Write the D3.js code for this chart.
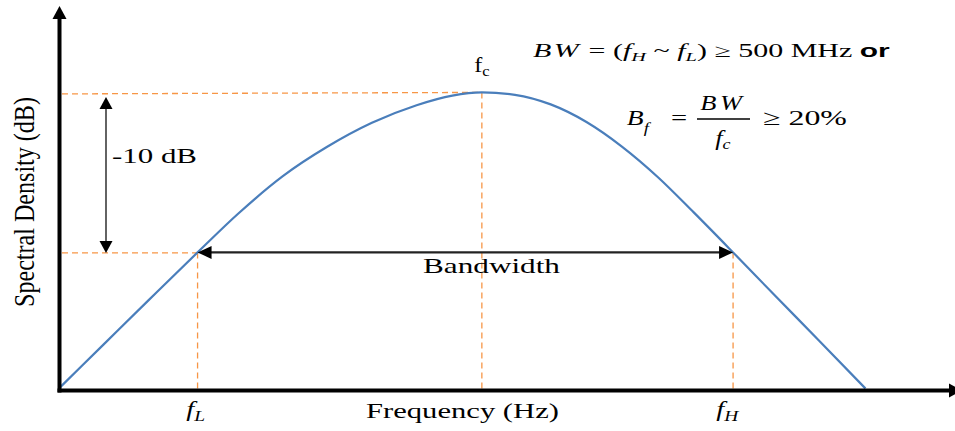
<!DOCTYPE html>
<html>
<head>
<meta charset="utf-8">
<script src="https://cdn.jsdelivr.net/npm/d3@7"></script>
<style>
  html, body { margin: 0; padding: 0; background: #fff; }
  svg { display: block; }
</style>
</head>
<body>
<svg id="chart" width="955" height="431"></svg>
<script>
// Spectral density curve: frequency in arbitrary units, level in dB
const frequency = [0, 5, 10, 15.5, 20, 25, 30, 35, 40, 44, 47.3,
                   51, 55, 59, 63, 67, 71, 75.4, 80, 85, 90.2];
const density   = [-18.5, -15.75, -13.0, -10.0, -7.6, -5.25, -3.4, -1.9, -0.8, -0.2, 0,
                   -0.15, -0.75, -1.85, -3.4, -5.3, -7.5, -10.0, -12.65, -15.5, -18.5];

// Band edges and centre frequency
const markerFreq = { fL: 15.5, fc: 47.3, fH: 75.4 };
const peakLevel = 0;     // dB at fc
const edgeLevel = -10;   // dB at fL / fH

const xDomain = [0, 100];
const yDomain = [-18.6, 5.4];

const SERIF = "'Liberation Serif', 'Times New Roman', serif";
const SANS = "'Liberation Sans', Arial, sans-serif";
const CURVE = "#4a7ebb";
const GUIDE = "#f79646";
const STRETCH = 1.3;   // horizontal stretch applied to short labels

const svg = d3.select("#chart");
const x = d3.scaleLinear().domain(xDomain).range([59, 953]);
const y = d3.scaleLinear().domain(yDomain).range([390, 6]);

const x0 = x(xDomain[0]), yBase = y(yDomain[0]);

// ---- helpers ----
function arrowHead(g, tipX, tipY, dx, dy, len, half, fill) {
  const bx = tipX - dx * len, by = tipY - dy * len;
  const px = -dy, py = dx;
  g.append("path")
    .attr("d", `M${tipX},${tipY}L${bx + px * half},${by + py * half}L${bx - px * half},${by - py * half}Z`)
    .attr("fill", fill);
}

function richText(parent, parts, size) {
  const t = parent.append("text")
    .attr("font-family", SERIF).attr("font-size", size).attr("fill", "#000");
  let shift = 0;
  parts.forEach(p => {
    const s = t.append("tspan").text(p.t);
    const want = p.sub ? size * (p.drop || 0.3) : 0;
    if (want !== shift) { s.attr("dy", want - shift); shift = want; }
    if (p.sub) s.attr("font-size", size * (p.rel || 0.68));
    if (p.i) s.attr("font-style", "italic");
    if (p.b) s.attr("font-weight", "bold");
    if (p.sans) s.attr("font-family", SANS);
    if (p.ls) s.attr("letter-spacing", p.ls);
  });
  return t;
}

// text with its left edge at `left`, stretched horizontally to `width`
function fitted(parts, left, baseline, size, width) {
  const g = svg.append("g");
  const t = richText(g, parts, size);
  const b = t.node().getBBox();
  const s = width / b.width;
  g.attr("transform", `translate(${left - b.x * s},${baseline}) scale(${s},1)`);
  return g;
}

// text centred on `cx`, with the fixed horizontal stretch
function centred(parts, cx, baseline, size, s = STRETCH) {
  const g = svg.append("g");
  const t = richText(g, parts, size);
  const b = t.node().getBBox();
  g.attr("transform", `translate(${cx - (b.x + b.width / 2) * s},${baseline}) scale(${s},1)`);
  return g;
}

// ---- guide lines (dashed) ----
const guides = svg.append("g")
  .attr("stroke", GUIDE).attr("stroke-width", 1.3)
  .attr("stroke-dasharray", "6,4").attr("fill", "none");

guides.append("line")
  .attr("x1", x0 + 3).attr("x2", x(markerFreq.fc))
  .attr("y1", y(peakLevel) + 1.5).attr("y2", y(peakLevel));
guides.append("line")
  .attr("x1", x0 + 3).attr("x2", x(markerFreq.fL))
  .attr("y1", y(edgeLevel) + 0.5).attr("y2", y(edgeLevel) + 0.5);
[["fL", edgeLevel], ["fc", peakLevel], ["fH", edgeLevel]].forEach(([k, lvl]) => {
  guides.append("line")
    .attr("x1", x(markerFreq[k])).attr("x2", x(markerFreq[k]))
    .attr("y1", y(lvl)).attr("y2", yBase);
});

// ---- spectral curve ----
const pts = frequency.map((f, i) => [f, density[i]]);
svg.append("path")
  .datum(pts)
  .attr("fill", "none")
  .attr("stroke", CURVE)
  .attr("stroke-width", 2.2)
  .attr("d", d3.line().x(d => x(d[0])).y(d => y(d[1])).curve(d3.curveMonotoneX));

// ---- axes ----
const axes = svg.append("g");
axes.append("line")
  .attr("x1", x0 + 0.5).attr("x2", x0 + 0.5)
  .attr("y1", yBase + 2.5).attr("y2", y(yDomain[1]) + 10)
  .attr("stroke", "#000").attr("stroke-width", 4);
arrowHead(axes, x0 + 0.5, y(yDomain[1]), 0, -1, 13, 7, "#000");

const xTip = x(xDomain[1]) + 9;
axes.append("line")
  .attr("x1", x0 - 1.5).attr("x2", xTip - 8)
  .attr("y1", yBase + 0.5).attr("y2", yBase + 0.5)
  .attr("stroke", "#000").attr("stroke-width", 4);
arrowHead(axes, xTip, yBase + 0.5, 1, 0, 13, 7, "#000");

// ---- -10 dB span arrow ----
const dbArrowX = x0 + 47;
const ann = svg.append("g");
ann.append("line")
  .attr("x1", dbArrowX).attr("x2", dbArrowX)
  .attr("y1", y(peakLevel) + 14).attr("y2", y(edgeLevel) - 10)
  .attr("stroke", "#222").attr("stroke-width", 1.4);
arrowHead(ann, dbArrowX, y(peakLevel) + 4.5, 0, -1, 12, 6.5, "#000");
arrowHead(ann, dbArrowX, y(edgeLevel) + 0.5, 0, 1, 12, 6.5, "#000");

// ---- bandwidth arrow ----
const bwY = y(edgeLevel);
ann.append("line")
  .attr("x1", x(markerFreq.fL) + 10).attr("x2", x(markerFreq.fH) - 10)
  .attr("y1", bwY).attr("y2", bwY)
  .attr("stroke", "#222").attr("stroke-width", 2.2);
arrowHead(ann, x(markerFreq.fL), bwY, -1, 0, 14, 6.5, "#000");
arrowHead(ann, x(markerFreq.fH), bwY, 1, 0, 14, 6.5, "#000");

// ---- labels ----
fitted([{ t: "-10 dB" }], dbArrowX + 6, 163, 22, 85);
fitted([{ t: "Bandwidth" }], 423, 273, 22, 137);
fitted([{ t: "Frequency (Hz)" }], 366, 418, 21, 193);
centred([{ t: "f", i: true }, { t: "L", i: true, sub: true, drop: 0.22 }], x(markerFreq.fL) - 2, 416, 22);
centred([{ t: "f", i: true }, { t: "H", i: true, sub: true, drop: 0.22 }], x(markerFreq.fH) - 5, 416, 22);
centred([{ t: "f" }, { t: "c", sub: true, drop: 0.2 }], x(markerFreq.fc), 72, 21, 1.15);

// y axis title
(function () {
  const g = svg.append("g");
  const t = g.append("text")
    .attr("font-family", SERIF).attr("font-size", 24).attr("fill", "#000")
    .attr("text-anchor", "middle").text("Spectral Density (dB)");
  const L = t.node().getComputedTextLength();
  g.attr("transform", `translate(33.5,202) scale(1.25,1) rotate(-90) scale(${210 / L},1)`);
})();

// bandwidth definitions
fitted([
  { t: "BW", i: true, ls: 1.5 }, { t: " = (" },
  { t: "f", i: true }, { t: "H", i: true, sub: true, drop: 0.2 },
  { t: " ~ " },
  { t: "f", i: true }, { t: "L", i: true, sub: true, drop: 0.2 },
  { t: ") ≥ 500 MHz " },
  { t: "or", b: true, sans: true }
], 533, 57, 18.5, 357);

centred([{ t: "B", i: true }, { t: "f", i: true, sub: true, drop: 0.38 }], 639, 125, 22, 1.25);
centred([{ t: "=" }], 679, 125, 22, 1.3);
centred([{ t: "BW", i: true, ls: 3 }], 723, 110, 22, 1.2);
svg.append("line")
  .attr("x1", 697).attr("x2", 750).attr("y1", 119).attr("y2", 119)
  .attr("stroke", "#000").attr("stroke-width", 1.3);
centred([{ t: "f", i: true }, { t: "c", i: true, sub: true, drop: 0.2 }], 723, 145, 22, 1.2);
fitted([{ t: "≥ 20%" }], 763, 125, 22, 84);
</script>
</body>
</html>
